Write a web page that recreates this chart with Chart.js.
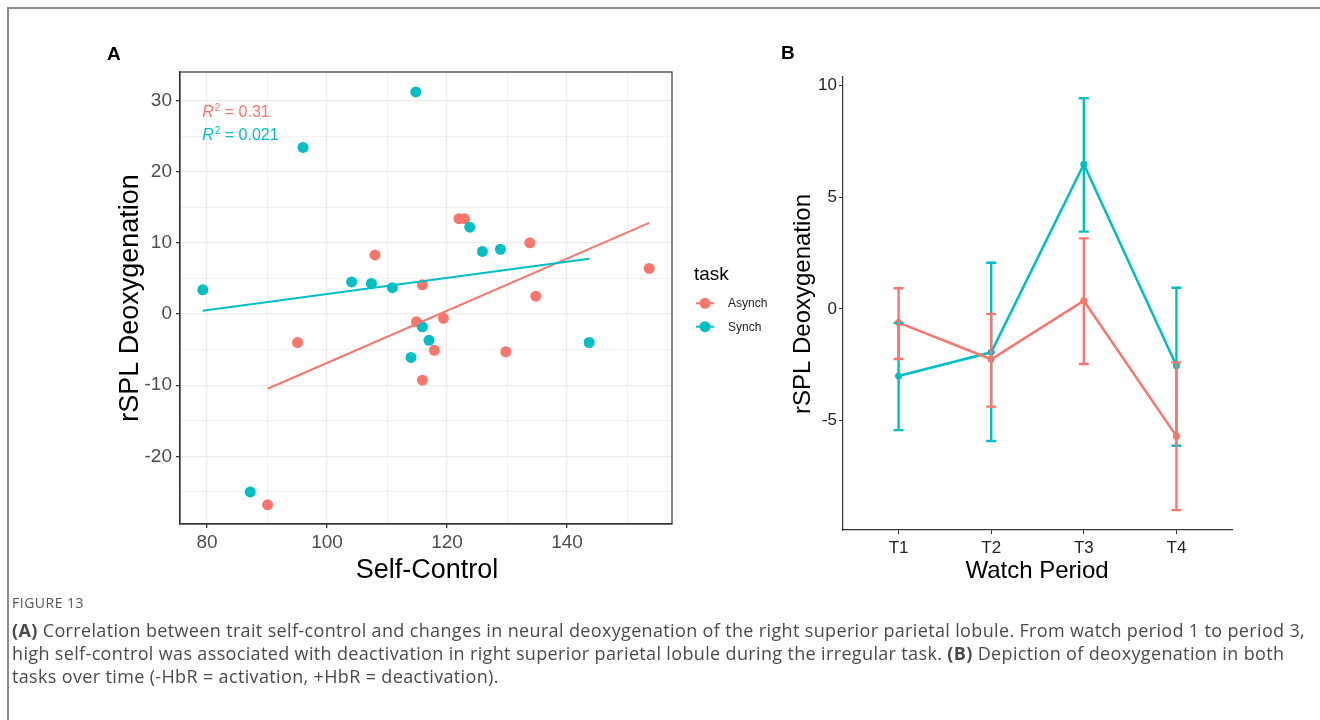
<!DOCTYPE html>
<html>
<head>
<meta charset="utf-8">
<script src="https://cdn.jsdelivr.net/npm/chart.js@4.4.1/dist/chart.umd.min.js"></script>
<style>
  html, body { margin: 0; padding: 0; background: #fff; }
  body { width: 1320px; height: 720px; position: relative; overflow: hidden; }
  #frame { position: absolute; left: 7px; top: 7px; right: -4px; bottom: -4px;
           border-left: 2px solid #8a8a8a; border-top: 2px solid #8a8a8a; }
  #cA { position: absolute; left: 0; top: 0; }
  #cB { position: absolute; left: 780px; top: 0; }
  #caption { position: absolute; left: 12px; top: 593px; font-family: "Open Sans", sans-serif; color: #4a4a4a; }
  #caption .fig { font-size: 14px; line-height: 20px; color: #555; letter-spacing: 0.5px; }
  #caption .ln { font-size: 18px; line-height: 23px; white-space: nowrap; margin: 0; letter-spacing: 0.35px; }
  #caption .lines { margin-top: 6px; }
</style>
</head>
<body>
<div id="frame"></div>
<canvas id="cA" width="780" height="600"></canvas>
<canvas id="cB" width="540" height="600"></canvas>
<div id="caption">
  <div class="fig">FIGURE 13</div>
  <div class="lines">
    <div class="ln"><b>(A)</b> Correlation between trait self-control and changes in neural deoxygenation of the right superior parietal lobule. From watch period 1 to period 3,</div>
    <div class="ln">high self-control was associated with deactivation in right superior parietal lobule during the irregular task. <b>(B)</b> Depiction of deoxygenation in both</div>
    <div class="ln">tasks over time (-HbR = activation, +HbR = deactivation).</div>
  </div>
</div>

<script>
// ---------- Panel A: self-control vs rSPL deoxygenation ----------
const asynchSelfControl = [108, 122, 122.9, 133.8, 153.7, 115.9, 95.1, 90.1, 134.8, 114.9, 119.4, 117.9, 129.8, 115.9];
const asynchDeoxy       = [8.3, 13.4, 13.4, 10.0, 6.4, 4.1, -4.0, -26.8, 2.5, -1.1, -0.6, -5.1, -5.3, -9.3];
const synchSelfControl  = [96.0, 104.1, 107.4, 110.9, 79.3, 114.8, 123.8, 125.9, 128.9, 87.2, 115.9, 117.0, 114.0, 143.7];
const synchDeoxy        = [23.4, 4.5, 4.3, 3.7, 3.4, 31.2, 12.2, 8.8, 9.1, -25.0, -1.8, -3.7, -6.1, -4.0];

// fitted regression lines (end points)
const asynchFitX = [90.1, 153.7];
const asynchFitY = [-10.5, 12.8];
const synchFitX  = [79.3, 143.7];
const synchFitY  = [0.46, 7.77];

const asynchR2 = '0.31';
const synchR2  = '0.021';

const xMajorA = [80, 100, 120, 140];
const xMinorA = [90, 110, 130, 150];
const yMajorA = [-20, -10, 0, 10, 20, 30];
const yMinorA = [-25, -15, -5, 5, 15, 25];

const taskNames = ['Asynch', 'Synch'];

// ---------- Panel B: watch periods ----------
const periods     = ['T1', 'T2', 'T3', 'T4'];
const asynchMean  = [-0.61, -2.25, 0.37, -5.69];
const asynchLower = [-2.24, -4.37, -2.46, -9.0];
const asynchUpper = [0.93, -0.22, 3.16, -2.39];
const synchMean   = [-3.0, -1.94, 6.48, -2.54];
const synchLower  = [-5.42, -5.91, 3.46, -6.12];
const synchUpper  = [-0.62, 2.07, 9.43, 0.95];
const yTicksB     = [-5, 0, 5, 10];

const RED = '#F8766D';
const CYAN = '#00BFC4';
const FONT = '"Liberation Sans", Arial, sans-serif';

Chart.defaults.font.family = FONT;
Chart.defaults.animation = false;

const toXY = (xs, ys) => xs.map((x, i) => ({ x: x, y: ys[i] }));

// overlays for panel A: panel border, axis titles, R² labels, legend, tag
const panelAOverlay = {
  id: 'panelAOverlay',
  afterDraw(chart) {
    const { ctx, chartArea: a, scales: { x, y } } = chart;
    ctx.save();
    ctx.strokeStyle = '#333333';
    ctx.lineWidth = 1.2;
    ctx.strokeRect(a.left, a.top, a.right - a.left, a.bottom - a.top);

    // R² annotations
    const r2 = (val, color, yv) => {
      let px = x.getPixelForValue(79.2);
      const py = y.getPixelForValue(yv);
      ctx.fillStyle = color;
      ctx.textAlign = 'left';
      ctx.textBaseline = 'alphabetic';
      ctx.font = 'italic 16px ' + FONT;
      ctx.fillText('R', px, py);
      px += ctx.measureText('R').width + 1;
      ctx.font = '10px ' + FONT;
      ctx.fillText('2', px, py - 6);
      px += ctx.measureText('2').width;
      ctx.font = '16px ' + FONT;
      ctx.fillText(' = ' + val, px, py);
    };
    r2(asynchR2, RED, 27.7);
    r2(synchR2, CYAN, 24.4);

    // axis titles
    ctx.fillStyle = '#000';
    ctx.font = '27px ' + FONT;
    ctx.textAlign = 'center';
    ctx.fillText('Self-Control', (a.left + a.right) / 2 + 1, 578);
    ctx.save();
    ctx.translate(137.5, 298);
    ctx.rotate(-Math.PI / 2);
    ctx.fillText('rSPL Deoxygenation', 0, 0);
    ctx.restore();

    // panel tag
    ctx.font = 'bold 19px ' + FONT;
    ctx.textAlign = 'left';
    ctx.fillText('A', 107, 60);

    // legend
    ctx.font = '19px ' + FONT;
    ctx.fillText('task', 694, 279.5);
    const colors = [RED, CYAN];
    const ys = [303.3, 326.7];
    taskNames.forEach((name, i) => {
      ctx.strokeStyle = colors[i];
      ctx.lineWidth = 2;
      ctx.beginPath();
      ctx.moveTo(696, ys[i]);
      ctx.lineTo(714, ys[i]);
      ctx.stroke();
      ctx.fillStyle = colors[i];
      ctx.beginPath();
      ctx.arc(705, ys[i], 5.5, 0, Math.PI * 2);
      ctx.fill();
      ctx.fillStyle = '#222';
      ctx.font = '12px ' + FONT;
      ctx.textBaseline = 'middle';
      ctx.fillText(name, 728, ys[i] + 0.5);
      ctx.textBaseline = 'alphabetic';
    });
    ctx.restore();
  }
};

const isMajorX = v => xMajorA.includes(v);
const isMajorY = v => yMajorA.includes(v);

new Chart(document.getElementById('cA'), {
  type: 'scatter',
  data: {
    datasets: [
      { label: 'Asynch', data: toXY(asynchSelfControl, asynchDeoxy), backgroundColor: RED,
        pointRadius: 5.5, pointBorderWidth: 0, order: 3 },
      { label: 'Synch', data: toXY(synchSelfControl, synchDeoxy), backgroundColor: CYAN,
        pointRadius: 5.5, pointBorderWidth: 0, order: 2 },
      { label: 'Asynch fit', data: toXY(asynchFitX, asynchFitY), showLine: true, borderColor: RED,
        borderWidth: 2, pointRadius: 0, order: 1 },
      { label: 'Synch fit', data: toXY(synchFitX, synchFitY), showLine: true, borderColor: CYAN,
        borderWidth: 2, pointRadius: 0, order: 0 }
    ]
  },
  options: {
    responsive: false,
    devicePixelRatio: 1,
    layout: { padding: { left: 130, right: 108, top: 72, bottom: 36 } },
    plugins: { legend: { display: false }, tooltip: { enabled: false } },
    scales: {
      x: {
        type: 'linear', min: 75.5, max: 157.5,
        afterBuildTicks: s => { s.ticks = xMajorA.concat(xMinorA).sort((p, q) => p - q).map(v => ({ value: v })); },
        afterFit: s => { s.height = 40; },
        ticks: { color: '#4D4D4D', font: { size: 19 }, padding: 3, maxRotation: 0, autoSkip: false,
                 callback: v => isMajorX(v) ? String(v) : '' },
        grid: {
          color: '#EBEBEB',
          lineWidth: c => (c.tick && isMajorX(c.tick.value)) ? 1.3 : 0.7,
          tickColor: c => (c.tick && isMajorX(c.tick.value)) ? '#333333' : 'rgba(0,0,0,0)',
          tickLength: 4, drawTicks: true
        },
        border: { display: true, color: '#333333', width: 1.2 }
      },
      y: {
        type: 'linear', min: -29.5, max: 34.0,
        afterBuildTicks: s => { s.ticks = yMajorA.concat(yMinorA).sort((p, q) => p - q).map(v => ({ value: v })); },
        afterFit: s => { s.width = 50; },
        ticks: { color: '#4D4D4D', font: { size: 19 }, padding: 4, autoSkip: false,
                 callback: v => isMajorY(v) ? String(v) : '' },
        grid: {
          color: '#EBEBEB',
          lineWidth: c => (c.tick && isMajorY(c.tick.value)) ? 1.3 : 0.7,
          tickColor: c => (c.tick && isMajorY(c.tick.value)) ? '#333333' : 'rgba(0,0,0,0)',
          tickLength: 4, drawTicks: true
        },
        border: { display: true, color: '#333333', width: 1.2 }
      }
    }
  },
  plugins: [panelAOverlay]
});

// overlays for panel B: error bars, axis titles, tag
const panelBOverlay = {
  id: 'panelBOverlay',
  afterDatasetsDraw(chart) {
    const { ctx, scales: { x, y } } = chart;
    const bars = [
      { color: CYAN, lo: synchLower, hi: synchUpper },
      { color: RED, lo: asynchLower, hi: asynchUpper }
    ];
    ctx.save();
    bars.forEach(b => {
      ctx.strokeStyle = b.color;
      ctx.lineWidth = 2.4;
      periods.forEach((p, i) => {
        const px = x.getPixelForValue(i + 1);
        const y0 = y.getPixelForValue(b.lo[i]);
        const y1 = y.getPixelForValue(b.hi[i]);
        ctx.beginPath();
        ctx.moveTo(px, y0); ctx.lineTo(px, y1);
        ctx.moveTo(px - 5, y0); ctx.lineTo(px + 5, y0);
        ctx.moveTo(px - 5, y1); ctx.lineTo(px + 5, y1);
        ctx.stroke();
      });
    });
    ctx.restore();
  },
  afterDraw(chart) {
    const { ctx } = chart;
    ctx.save();
    ctx.fillStyle = '#000';
    ctx.font = '24px ' + FONT;
    ctx.textAlign = 'center';
    ctx.textBaseline = 'alphabetic';
    ctx.fillText('Watch Period', 1037 - 780, 577.5);
    ctx.save();
    ctx.translate(810 - 780, 304);
    ctx.rotate(-Math.PI / 2);
    ctx.fillText('rSPL Deoxygenation', 0, 0);
    ctx.restore();
    ctx.font = 'bold 19px ' + FONT;
    ctx.textAlign = 'left';
    ctx.fillText('B', 1, 59);
    ctx.restore();
  }
};

new Chart(document.getElementById('cB'), {
  type: 'scatter',
  data: {
    datasets: [
      { label: 'Asynch', data: asynchMean.map((v, i) => ({ x: i + 1, y: v })), showLine: true,
        borderColor: RED, backgroundColor: RED, borderWidth: 2.5, pointRadius: 3.5, pointBorderWidth: 0 },
      { label: 'Synch', data: synchMean.map((v, i) => ({ x: i + 1, y: v })), showLine: true,
        borderColor: CYAN, backgroundColor: CYAN, borderWidth: 2.5, pointRadius: 3.5, pointBorderWidth: 0 }
    ]
  },
  options: {
    responsive: false,
    devicePixelRatio: 1,
    layout: { padding: { left: 23, right: 88, top: 77, bottom: 30 } },
    plugins: { legend: { display: false }, tooltip: { enabled: false } },
    scales: {
      x: {
        type: 'linear', min: 0.4, max: 4.6,
        afterBuildTicks: s => { s.ticks = periods.map((p, i) => ({ value: i + 1 })); },
        afterFit: s => { s.height = 40; },
        ticks: { color: '#222', font: { size: 17 }, padding: 4, maxRotation: 0, autoSkip: false,
                 callback: v => periods[v - 1] },
        grid: { drawOnChartArea: false, drawTicks: true, tickLength: 4, tickColor: '#333333' },
        border: { display: true, color: '#333333', width: 1.2 }
      },
      y: {
        type: 'linear', min: -9.89, max: 10.38,
        afterBuildTicks: s => { s.ticks = yTicksB.map(v => ({ value: v })); },
        afterFit: s => { s.width = 40; },
        ticks: { color: '#222', font: { size: 17 }, padding: 2, autoSkip: false,
                 callback: v => String(v) },
        grid: { drawOnChartArea: false, drawTicks: true, tickLength: 4, tickColor: '#333333' },
        border: { display: true, color: '#333333', width: 1.2 }
      }
    }
  },
  plugins: [panelBOverlay]
});
</script>
</body>
</html>
